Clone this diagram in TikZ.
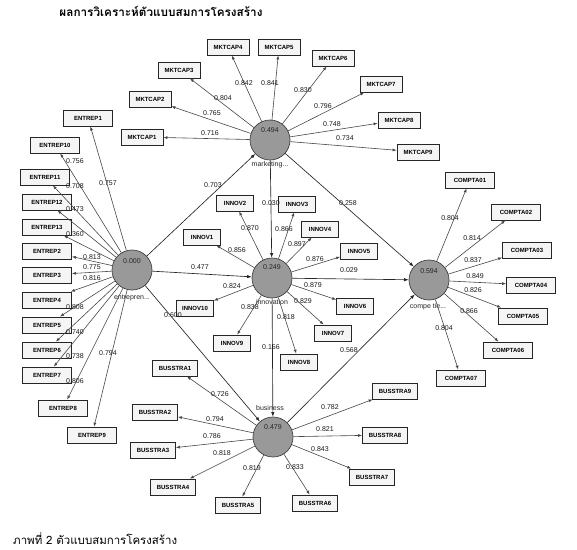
\documentclass[tikz,border=0pt]{standalone}
\usepackage{fontspec}
\setmainfont{Liberation Sans}
\newfontfamily\thaifont[Script=Thai]{Loma}
\usetikzlibrary{arrows.meta}
\tikzset{
  lat/.style={circle, draw=black!75, fill=black!40, line width=0.7pt, minimum size=40pt, inner sep=0pt},
  ind/.style={rectangle, draw=black!85, fill=black!4, line width=0.8pt, minimum height=16pt, inner sep=0pt,
    font=\fontsize{6}{7}\selectfont\bfseries},
  boxmk/.style={ind, minimum width=42pt},
  boxen/.style={ind, minimum width=49pt},
  boxin/.style={ind, minimum width=37pt},
  boxco/.style={ind, minimum width=49pt},
  boxbu/.style={ind, minimum width=45pt},
  ld/.style={font=\fontsize{7}{8}\selectfont, inner sep=0pt, text=black!90},
  val/.style={font=\fontsize{7}{8}\selectfont, inner sep=0pt, text=black!85},
  load/.style={draw=black!72, line width=0.6pt, -{Latex[length=4pt,width=3pt]}},
  pth/.style={draw=black!85, line width=0.65pt, -{Latex[length=4.5pt,width=3.4pt]}},
}
\begin{document}
\begin{tikzpicture}[x=1pt, y=-1pt]
\fill[white] (0,0) rectangle (577,549);
\useasboundingbox (0,0) rectangle (577,549);

% title and caption
\node[inner sep=0pt] (title) at (161,11) {\resizebox{203pt}{!}{\thaifont\bfseries ผลการวิเคราะห์ตัวแบบสมการโครงสร้าง}};
\node[inner sep=0pt, anchor=base west] (caption) at (13,544) {\resizebox{164pt}{!}{\thaifont ภาพที่ 2 ตัวแบบสมการโครงสร้าง}};

% latent variables
\node[lat] (E) at (132,270) {};
\node[lat] (M) at (270,140) {};
\node[lat] (I) at (272,278) {};
\node[lat] (C) at (429,280) {};
\node[lat] (B) at (273,437) {};
\node[val] (Ev) at (132,261) {0.000};
\node[val] (Mv) at (270,130) {0.494};
\node[val] (Iv) at (272,267) {0.249};
\node[val] (Cv) at (429,271) {0.594};
\node[val] (Bv) at (273,427) {0.479};
\node[val] (El) at (132,298) {entrepren...};
\node[val] (Ml) at (270,165) {marketing...};
\node[val] (Il) at (272,302) {innovation};
\node[val] (Cl) at (428,307) {compe tie...};
\node[val] (Bl) at (270,408) {business};

% indicators
\foreach \n/\x/\y in {1/142/137, 2/150/99, 3/179/70, 4/228/47, 5/279/47, 6/333/58, 7/381/84, 8/399/120, 9/418/152}
  \node[boxmk] (MKTCAP\n) at (\x,\y) {MKTCAP\n};
\foreach \n/\x/\y in {1/88/118, 10/55/145, 11/45/177, 12/47/202, 13/47/227, 2/47/251, 3/47/275, 4/47/300, 5/47/325, 6/47/350, 7/47/375, 8/63/408, 9/92/435}
  \node[boxen] (ENTREP\n) at (\x,\y) {ENTREP\n};
\foreach \n/\x/\y in {1/202/237, 2/235/203, 3/297/204, 4/320/229, 5/359/251, 6/355/306, 7/333/333, 8/299/362, 9/232/343, 10/195/308}
  \node[boxin] (INNOV\n) at (\x,\y) {INNOV\n};
\foreach \n/\x/\y in {1/470/180, 2/516/212, 3/527/250, 4/531/285, 5/523/316, 6/508/350, 7/461/378}
  \node[boxco] (COMPTA\n) at (\x,\y) {COMPTA0\n};
\foreach \n/\x/\y in {1/175/368, 2/155/412, 3/153/450, 4/173/487, 5/238/505, 6/315/503, 7/372/477, 8/385/435, 9/395/391}
  \node[boxbu] (BUSSTRA\n) at (\x,\y) {BUSSTRA\n};

% measurement arrows
\foreach \n in {1,...,9} \draw[load] (M) -- (MKTCAP\n);
\foreach \n in {1,...,13} \draw[load] (E) -- (ENTREP\n);
\foreach \n in {1,...,10} \draw[load] (I) -- (INNOV\n);
\foreach \n in {1,...,7} \draw[load] (C) -- (COMPTA\n);
\foreach \n in {1,...,9} \draw[load] (B) -- (BUSSTRA\n);

% structural paths
\draw[pth] (E) -- (M);
\draw[pth] (E) -- (I);
\draw[pth] (E) -- (B);
\draw[pth] (M) -- (I);
\draw[pth] (M) -- (C);
\draw[pth] (I) -- (C);
\draw[pth] (I) -- (B);
\draw[pth] (B) -- (C);

% loadings
\foreach \v/\x/\y [count=\i] in {0.716/210/133, 0.765/212/113, 0.804/223/98, 0.842/244/83, 0.841/270/83, 0.830/303/90, 0.796/323/106, 0.748/332/124, 0.734/345/138}
  \node[ld] (lm\i) at (\x,\y) {\v};
\foreach \v/\x/\y [count=\i] in {0.757/108/183, 0.756/75/161, 0.708/75/186, 0.473/75/209, 0.360/75/234, 0.813/92/257, 0.775/92/267, 0.816/92/278, 0.808/75/307, 0.740/75/332, 0.738/75/356, 0.806/75/381, 0.794/108/353}
  \node[ld] (le\i) at (\x,\y) {\v};
\foreach \v/\x/\y [count=\i] in {0.856/237/250, 0.870/250/228, 0.866/284/229, 0.897/297/244, 0.876/315/259, 0.879/313/285, 0.829/303/301, 0.818/286/317, 0.838/250/307, 0.824/232/286}
  \node[ld] (li\i) at (\x,\y) {\v};
\foreach \v/\x/\y [count=\i] in {0.804/450/218, 0.814/472/238, 0.837/473/260, 0.849/475/276, 0.826/473/290, 0.866/469/311, 0.804/444/328}
  \node[ld] (lc\i) at (\x,\y) {\v};
\foreach \v/\x/\y [count=\i] in {0.726/220/394, 0.794/215/419, 0.786/212/436, 0.818/222/453, 0.819/252/468, 0.833/295/467, 0.843/320/449, 0.821/325/429, 0.782/330/407}
  \node[ld] (lb\i) at (\x,\y) {\v};
% path coefficients
\node[ld] (p1) at (213,185) {0.703};
\node[ld] (p2) at (200,267) {0.477};
\node[ld] (p3) at (173,315) {0.600};
\node[ld] (p4) at (271,203) {0.030};
\node[ld] (p5) at (348,203) {0.258};
\node[ld] (p6) at (349,270) {0.029};
\node[ld] (p7) at (271,347) {0.156};
\node[ld] (p8) at (349,350) {0.568};
\end{tikzpicture}
\end{document}
